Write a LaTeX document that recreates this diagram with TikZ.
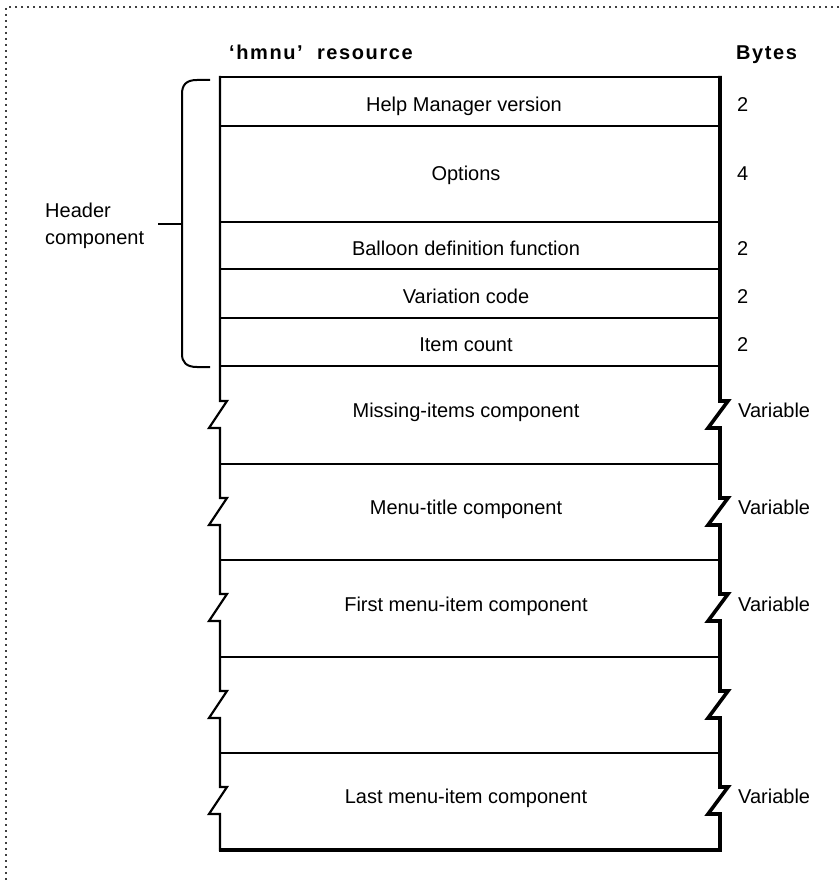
\documentclass[tikz,border=0pt]{standalone}
\usepackage{fontspec}
\setmainfont{Liberation Sans}
\begin{document}
\begin{tikzpicture}[x=1pt,y=-1pt,
  lbl/.style={inner sep=0pt,font=\fontsize{20}{24}\selectfont},
  fieldtext/.style={lbl,anchor=base},
  bytetext/.style={lbl,anchor=base west},
  headtext/.style={inner sep=0pt,anchor=base west,
    font=\fontsize{20}{24}\selectfont\bfseries\addfontfeatures{LetterSpace=8}},
  thinedge/.style={line width=2.2pt,line join=miter},
  thickedge/.style={line width=3.6pt,line join=miter},
  divider/.style={line width=2pt},
  bracestyle/.style={line width=2pt,line join=round},
  frame/.style={line width=1.6pt,black!75,dash pattern=on 1.6pt off 4.4pt}]
\useasboundingbox (0,0) rectangle (839,882);

% dotted frame (top and left only)
\draw[frame] (839,7) -- (6,7) -- (6,882);

% column headings
\node[headtext] (reshead) at (229,60) {‘hmnu’\ \ resource};
\node[headtext] (byteshead) at (736,60) {Bytes};

% horizontal dividers between fields
\foreach \y in {126,222,269,318,366,464,560,657,753}
  \draw[divider] (220,\y) -- (720,\y);

% top and bottom of the resource
\draw[thinedge] (220,77) -- (720,77);
\draw[thickedge] (218.9,850) -- (721.8,850);

% left edge with breaks in the variable-length parts
\draw[thinedge] (220,76) foreach \c in {415,512,608,705,801}
  { -- (220,\c-14) -- (227,\c-14) -- (209,\c+13) -- (220,\c+13) } -- (220,851);

% right edge, heavier, with the same breaks
\draw[thickedge] (720,75.9) foreach \c in {415,512,608,705,801}
  { -- (720,\c-14) -- (728,\c-14) -- (708,\c+13) -- (720,\c+13) } -- (720,851.8);

% field names
\node[fieldtext] (f1) at (464,112) {Help Manager version};
\node[fieldtext] (f2) at (466,181) {Options};
\node[fieldtext] (f3) at (466,255) {Balloon definition function};
\node[fieldtext] (f4) at (466,303) {Variation code};
\node[fieldtext] (f5) at (466,351) {Item count};
\node[fieldtext] (f6) at (466,417) {Missing-items component};
\node[fieldtext] (f7) at (466,514) {Menu-title component};
\node[fieldtext] (f8) at (466,611) {First menu-item component};
\node[fieldtext] (f10) at (466,803) {Last menu-item component};

% sizes in bytes
\node[bytetext] (b1) at (737,112) {2};
\node[bytetext] (b2) at (737,181) {4};
\node[bytetext] (b3) at (737,255) {2};
\node[bytetext] (b4) at (737,303) {2};
\node[bytetext] (b5) at (737,351) {2};
\node[bytetext] (b6) at (738,417) {Variable};
\node[bytetext] (b7) at (738,514) {Variable};
\node[bytetext] (b8) at (738,611) {Variable};
\node[bytetext] (b10) at (738,803) {Variable};

% brace grouping the header fields
\draw[bracestyle] (210,80) -- (197,80) .. controls (186,80) and (182,85) .. (182,94)
  -- (182,354) .. controls (182,362) and (186,367) .. (197,367) -- (210,367);
\coordinate (bracemid) at (182,224);
\coordinate (tickend) at (158,224);
\draw[bracestyle] (bracemid) -- (tickend);

% label of the header group
\node[lbl,align=left,anchor=base west] (hdr) at (45,245)
  {Header\\[3pt]component};
\end{tikzpicture}
\end{document}
